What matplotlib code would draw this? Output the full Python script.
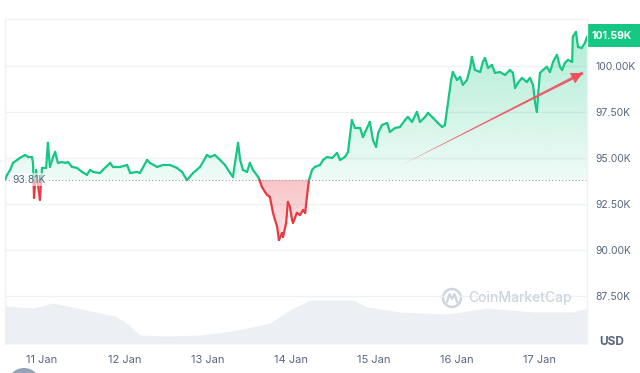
import numpy as np
import pandas as pd
import matplotlib
matplotlib.use('Agg')
import matplotlib.pyplot as plt
import matplotlib.dates as mdates
from matplotlib.path import Path
from matplotlib.transforms import blended_transform_factory
from matplotlib.patches import Ellipse, Rectangle, FancyArrowPatch
from matplotlib.collections import LineCollection

plt.rcParams['font.family'] = ['Inter', 'DejaVu Sans']

# ---------------- data ----------------
# hours since 2025-01-10 00:00
hours = [13.3, 13.9, 14.8, 15.6, 16.8, 17.6, 19.1, 20.0, 21.1, 21.4, 21.7, 22.3, 23.4, 24.0,
         25.2, 25.7, 26.3, 27.2, 27.8, 28.6, 29.8, 30.7, 31.5, 32.7, 34.1, 35.6, 37.0, 37.9,
         38.8, 40.8, 41.6, 43.7, 44.5, 46.6, 48.6, 49.5, 51.5, 52.3, 54.4, 55.2, 57.3, 59.0,
         61.0, 63.0, 64.5, 65.9, 67.7, 69.7, 71.7, 72.6, 74.0, 75.5, 76.9, 78.4, 79.2, 80.7,
         81.3, 82.1, 83.3, 84.1, 85.0, 86.5, 87.0, 87.6, 88.5, 89.1, 89.9, 90.8, 92.0, 92.5,
         93.4, 93.7, 94.6, 95.1, 95.7, 96.3, 96.6, 97.7, 98.6, 99.5, 100.1, 100.6, 101.2, 102.1,
         102.9, 104.4, 105.3, 106.4, 107.9, 109.3, 110.2, 111.6, 112.5, 113.6, 114.5, 116.0,
         116.8, 118.0, 118.8, 119.7, 120.6, 121.2, 122.3, 123.8, 124.6, 126.1, 127.5, 129.0,
         129.8, 131.0, 132.4, 133.3, 134.8, 135.6, 137.1, 138.5, 139.7, 140.5, 141.4, 142.3,
         142.8, 144.0, 144.9, 145.7, 146.9, 147.8, 148.3, 149.2, 150.7, 151.5, 152.1, 153.0,
         154.1, 155.0, 156.4, 157.9, 159.3, 160.2, 160.8, 161.6, 162.8, 164.2, 165.1, 166.0,
         166.6, 167.1, 167.4, 168.0, 168.9, 170.0, 170.9, 171.8, 172.9, 173.8, 174.4, 175.2,
         176.1, 177.3, 177.5, 178.4, 179.0, 180.1, 181.0, 181.6]
price_k = [93.81, 94.08, 94.35, 94.73, 94.89, 95.00, 95.16, 95.05, 95.05, 94.73, 92.83, 94.35, 92.72, 94.46,
           94.46, 95.82, 94.51, 95.05, 95.33, 94.73, 94.78, 94.73, 94.78, 94.51, 94.46, 94.24, 94.08, 94.35,
           94.24, 94.18, 94.35, 94.73, 94.51, 94.51, 94.62, 94.18, 94.24, 94.18, 94.89, 94.73, 94.51, 94.62,
           94.62, 94.46, 94.24, 93.80, 94.18, 94.51, 95.16, 95.05, 95.16, 94.89, 94.62, 94.18, 93.97, 95.82,
           94.89, 94.35, 94.24, 94.73, 94.35, 93.97, 93.75, 93.42, 93.15, 92.99, 92.88, 92.01, 91.25, 90.54,
           90.92, 90.71, 91.47, 92.61, 92.34, 91.63, 91.47, 92.01, 91.90, 92.17, 92.01, 92.88, 93.80, 94.35,
           94.51, 94.62, 94.89, 95.05, 95.00, 95.27, 94.89, 95.05, 95.33, 97.06, 96.63, 96.63,
           96.14, 96.63, 96.96, 95.98, 95.60, 96.36, 96.79, 96.90, 96.41, 96.63, 96.68, 97.06,
           97.23, 96.96, 97.50, 96.96, 97.23, 97.45, 97.17, 96.90, 96.68, 96.79, 97.99, 99.24,
           99.67, 99.24, 99.40, 98.97, 99.24, 99.89, 100.49, 99.78, 99.67, 100.22, 100.43, 99.89,
           100.05, 99.62, 99.67, 99.51, 99.78, 99.62, 98.80, 99.08, 99.35, 99.13, 99.35, 98.97,
           97.99, 97.50, 98.32, 99.62, 99.78, 99.95, 99.67, 100.22, 100.60, 99.95, 99.78, 100.16,
           100.33, 100.22, 101.58, 101.85, 101.03, 100.98, 101.25, 101.59]

vol_hours = [13.3, 21.4, 27.2, 40.8, 45.1, 48.0, 52.3, 60.1, 69.7, 79.2, 89.9, 95.7, 101.5,
             113.9, 118.0, 127.5, 141.1, 152.7, 166.0, 177.5, 181.6]
vol_b = [60.8, 57.6, 65.6, 49.6, 44.8, 35.2, 14.4, 12.8, 14.4, 20.8, 33.6, 54.4, 70.4,
         70.4, 59.2, 51.2, 48.0, 57.6, 51.2, 51.2, 57.6]

baseline_k = 93.81
last_k = 101.59
ytick_vals = [87.5, 90.0, 92.5, 95.0, 97.5, 100.0]
ytick_labels = ['87.50K', '90.00K', '92.50K', '95.00K', '97.50K', '100.00K']
xtick_days = ['2025-01-11', '2025-01-12', '2025-01-13', '2025-01-14',
              '2025-01-15', '2025-01-16', '2025-01-17']
arrow_start = (127.5, 94.57)   # (hours, price K)
arrow_end = (180.4, 99.62)

GREEN = '#16c784'
RED = '#ea3943'
GREY = '#58667e'

# ---------------- figure ----------------
W, H = 640, 373
fig = plt.figure(figsize=(W / 100, H / 100), dpi=100)
fig.patch.set_facecolor('white')
pos = [5 / W, (H - 344) / H, 582 / W, 325 / H]
axv = fig.add_axes(pos, zorder=0)
ax = fig.add_axes(pos, zorder=1)
ax.patch.set_alpha(0)

t0 = pd.Timestamp('2025-01-10')
def tnum(h):
    return mdates.date2num(t0 + pd.to_timedelta(np.asarray(h, dtype=float), unit='h'))

x = tnum(hours)
p = np.array(price_k)
xmin, xmax = x[0], x[-1]

# volume (background)
xv = tnum(vol_hours)
axv.fill_between(xv, vol_b, 0, color='#eceff3', lw=0)
axv.set_xlim(xmin, xmax)
axv.set_ylim(0, 520)
axv.axis('off')

# insert baseline crossings
xs, ys = [x[0]], [p[0]]
for i in range(1, len(p)):
    a, b = p[i - 1] - baseline_k, p[i] - baseline_k
    if a * b < 0:
        f = (baseline_k - p[i - 1]) / (p[i] - p[i - 1])
        xs.append(x[i - 1] + f * (x[i] - x[i - 1]))
        ys.append(baseline_k)
    xs.append(x[i])
    ys.append(p[i])
xs, ys = np.array(xs), np.array(ys)

# gradient fills
def grad_fill(where, color_rgb, a_bottom, a_top, y0, y1):
    coll = ax.fill_between(xs, ys, baseline_k, where=where, interpolate=True,
                           facecolor='none', edgecolor='none')
    paths = coll.get_paths()
    if not paths:
        return
    cp = Path.make_compound_path(*paths)
    g = np.zeros((256, 1, 4))
    g[:, 0, 0:3] = color_rgb
    g[:, 0, 3] = np.linspace(a_bottom, a_top, 256)
    im = ax.imshow(g, extent=[xmin, xmax, y0, y1], origin='lower', aspect='auto',
                   zorder=1, interpolation='bilinear')
    im.set_clip_path(cp, ax.transData)

grad_fill(ys >= baseline_k, matplotlib.colors.to_rgb(GREEN), 0.07, 0.34, baseline_k, 102.0)
grad_fill(ys <= baseline_k, matplotlib.colors.to_rgb(RED), 0.12, 0.30, 90.3, baseline_k)

# price line
segs = np.stack([np.column_stack([xs[:-1], ys[:-1]]), np.column_stack([xs[1:], ys[1:]])], axis=1)
cols = [GREEN if (ys[i] + ys[i + 1]) / 2 >= baseline_k else RED for i in range(len(xs) - 1)]
lc = LineCollection(segs, colors=cols, linewidths=1.6, capstyle='round', joinstyle='round', zorder=3)
ax.add_collection(lc)

# baseline
ax.axhline(baseline_k, color='#9aa2b1', lw=0.8, ls=(0, (1, 2)), zorder=2)
tr = blended_transform_factory(ax.transAxes, ax.transData)
ax.text(0.012, baseline_k, f'{baseline_k:.2f}K', transform=tr, ha='left', va='center',
        fontsize=7.5, color=GREY, zorder=4,
        bbox=dict(boxstyle='square,pad=0.15', fc='white', ec='none', alpha=0.6))

# axes styling
ax.set_xlim(xmin, xmax)
ax.set_ylim(84.89, 102.55)
ax.yaxis.tick_right()
ax.set_yticks(ytick_vals, ytick_labels)
ax.tick_params(axis='y', length=0, pad=6, labelsize=7.5, labelcolor=GREY)
ax.set_xticks(mdates.date2num(pd.to_datetime(xtick_days)))
ax.xaxis.set_major_formatter(mdates.DateFormatter('%d Jan'))
ax.tick_params(axis='x', length=0, pad=8, labelsize=8, labelcolor=GREY)
ax.grid(axis='y', color='#eff2f5', lw=1)
ax.set_axisbelow(True)
for s in ['left', 'right', 'top']:
    ax.spines[s].set_color('#eff2f5')
    ax.spines[s].set_linewidth(1)
ax.spines['bottom'].set_visible(False)

# arrow annotation
xa0, xa1 = tnum([arrow_start[0], arrow_end[0]])
ya0, ya1 = arrow_start[1], arrow_end[1]
ACOL = '#ef4f5a'
wedge = FancyArrowPatch((xa1, ya1), (xa0, ya0), arrowstyle='wedge,tail_width=2.2,shrink_factor=0.5',
                        mutation_scale=1, color=ACOL, alpha=0.9, lw=0, shrinkA=0, shrinkB=0, zorder=4)
ax.add_patch(wedge)
head = FancyArrowPatch((xa1 - 0.06 * (xa1 - xa0), ya1 - 0.06 * (ya1 - ya0)), (xa1, ya1),
                       arrowstyle='-|>,head_length=0.7,head_width=0.35', mutation_scale=12,
                       color=ACOL, alpha=0.95, lw=0, shrinkA=0, shrinkB=0, zorder=4)
ax.add_patch(head)

# last price tag
fig.add_artist(Rectangle((587 / W, (H - 47) / H), 53 / W, 23 / H, transform=fig.transFigure,
                         fc=GREEN, ec='none'))
fig.text(612 / W, 1 - 36 / H, f'{last_k:.2f}K', ha='center', va='center', fontsize=7.5,
         weight='bold', color='white')

# USD label
fig.text(612 / W, 1 - 342 / H, 'USD', ha='center', va='center', fontsize=8.5,
         weight='bold', color=GREY)

# watermark
WM = '#cdd5e0'
fig.add_artist(Ellipse((452 / W, 1 - 298 / H), 18 / W, 18 / H, transform=fig.transFigure,
                       fill=False, ec=WM, lw=1.8))
fig.add_artist(matplotlib.lines.Line2D([447 / W, 449.5 / W, 452 / W, 454.5 / W, 457 / W],
                                       [1 - 302 / H, 1 - 294 / H, 1 - 299 / H, 1 - 294 / H, 1 - 302 / H],
                                       transform=fig.transFigure, color=WM, lw=1.6))
fig.text(468 / W, 1 - 298 / H, 'CoinMarketCap', ha='left', va='center', fontsize=10,
         weight='medium', color=WM)

# partially visible button at bottom-left
fig.add_artist(Ellipse((24 / W, 1 - 381 / H), 30 / W, 26 / H, transform=fig.transFigure,
                       fc='#96a2b5', ec='none'))

fig.savefig('out.png', dpi=100)
